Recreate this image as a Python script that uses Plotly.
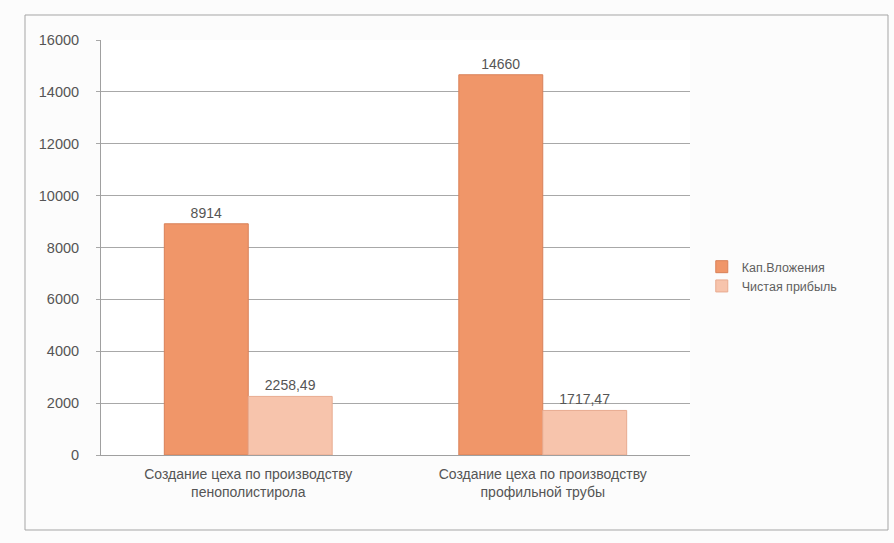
import plotly.graph_objects as go

# Data
categories = [
    "Создание цеха по производству<br>пенополистирола",
    "Создание цеха по производству<br>профильной трубы",
]
series_names = ["Кап.Вложения", "Чистая прибыль"]
kap_vlozheniya = [8914, 14660]
chistaya_pribyl = [2258.49, 1717.47]
y_ticks = [0, 2000, 4000, 6000, 8000, 10000, 12000, 14000, 16000]

W, H = 894, 543
L, R, T, B = 101, 204, 40, 88
plot_w = W - L - R
plot_h = H - T - B

def px_to_paper_x(px):
    return (px - L) / plot_w

def px_to_paper_y(py):
    return (H - B - py) / plot_h

FONT = "Liberation Sans, Arial, sans-serif"
label_font = dict(family=FONT, size=14, color="#555555")

fig = go.Figure()
fig.add_trace(go.Bar(
    name=series_names[0], x=categories, y=kap_vlozheniya,
    marker=dict(color="#f09669", line=dict(color="#d98058", width=1)),
    textposition="outside", texttemplate="%{y:.0f}",
    textfont=label_font, cliponaxis=False,
))
fig.add_trace(go.Bar(
    name=series_names[1], x=categories, y=chistaya_pribyl,
    marker=dict(color="#f7c4ac", line=dict(color="#e8ab90", width=1)),
    textposition="outside", texttemplate="%{y:.2f}",
    textfont=label_font, cliponaxis=False,
))

fig.update_layout(
    width=W, height=H,
    margin=dict(l=L, r=R, t=T, b=B),
    paper_bgcolor="#fcfcfc", plot_bgcolor="#ffffff",
    separators=", ",
    barmode="group", bargap=0.43, bargroupgap=0.0,
    font=dict(family=FONT, size=14, color="#555555"),
    legend=dict(x=1.02, y=0.43, xanchor="left", yanchor="middle",
                font=dict(size=12.5, color="#606060"), bgcolor="rgba(0,0,0,0)",
                itemwidth=30, tracegroupgap=2),
    showlegend=True,
    shapes=[dict(type="rect", xref="paper", yref="paper",
                 x0=px_to_paper_x(25), x1=px_to_paper_x(888),
                 y0=px_to_paper_y(530), y1=px_to_paper_y(15),
                 line=dict(color="#a5a5a5", width=1), fillcolor="rgba(0,0,0,0)",
                 layer="below")],
)
fig.update_yaxes(range=[0, 16000], tickvals=y_ticks, tickformat="d",
                 showgrid=True, gridcolor="#a8a8a8", gridwidth=1,
                 showline=True, linecolor="#a0a0a0", linewidth=1,
                 ticks="outside", ticklen=4, tickcolor="#a8a8a8",
                 ticklabelstandoff=14, zeroline=False,
                 tickfont=dict(size=14.5, color="#555555"))
fig.update_xaxes(showline=True, linecolor="#a0a0a0", linewidth=1,
                 ticks="", ticklabelstandoff=6,
                 tickfont=dict(size=14, color="#555555"))

fig.write_html("out.html")
